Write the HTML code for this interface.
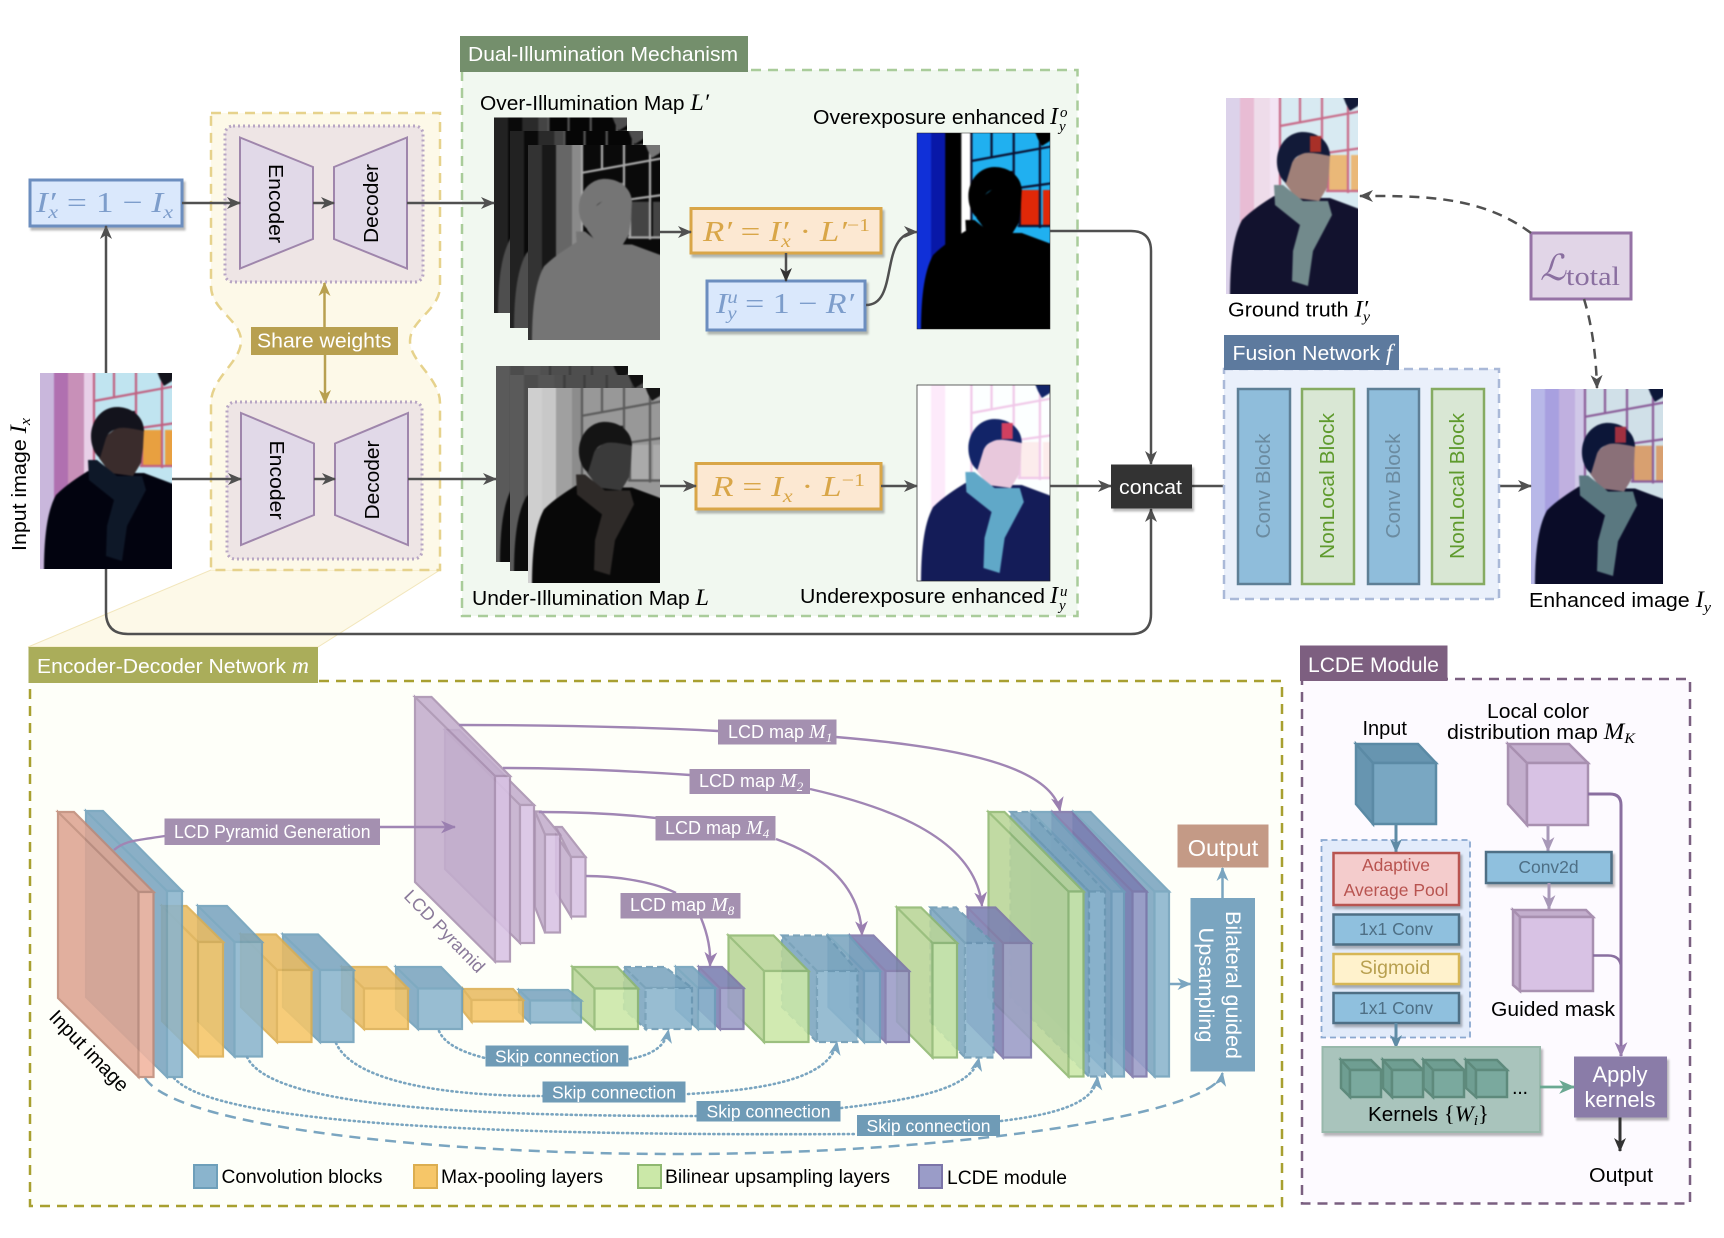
<!DOCTYPE html>
<html><head><meta charset="utf-8"><style>
html,body{margin:0;padding:0;background:#fff}
svg{display:block}
text{font-family:"Liberation Sans",sans-serif}
.m{font-family:"Liberation Serif",serif;font-style:italic}
.mr{font-family:"Liberation Serif",serif}
.w{fill:#fff}
.k{fill:#000}
.a1{fill:var(--w1)}.a2{fill:var(--w2)}.a3{fill:var(--w3)}.a12{fill:var(--w4)}.a4{fill:var(--p)}.a5{fill:var(--o)}
.a6{fill:none;stroke:var(--f);stroke-width:2.2}
.a7{fill:var(--coat)}.a8{fill:var(--sc)}.a9{fill:var(--skin)}.a10{fill:var(--hat)}.a11{fill:var(--logo)}
.pb{filter:blur(.9px)}
.ph1{--w1:#c9b7dc;--w2:#b070b0;--w3:#c890b8;--w4:#e8d0e8;--p:#c0e4f0;--o:#e8a040;--f:#c06080;--coat:#02030f;--sc:#0e1828;--skin:#3a2c2c;--hat:#13131c;--logo:#13131c}
.ph2{--w1:#dcd2ea;--w2:#e8bcd4;--w3:#eedcea;--w4:#f3e4f4;--p:#d8eaf2;--o:#eab878;--f:#c86a88;--coat:#12122e;--sc:#728a8c;--skin:#a08078;--hat:#121a38;--logo:#a83028}
.ph3{--w1:#b8b8e8;--w2:#a8a0e0;--w3:#c0b0e0;--w4:#d0c8e8;--p:#d0e0e8;--o:#d8a070;--f:#8a5c98;--coat:#0a0c28;--sc:#5a7880;--skin:#8a7078;--hat:#0c1638;--logo:#a03040}
.ph4{--w1:#fff;--w2:#fdeafa;--w3:#fff;--w4:#fff;--p:#fcffff;--o:#fcecec;--f:#f0c8e8;--coat:#141c58;--sc:#60a8c8;--skin:#e8c8dc;--hat:#122468;--logo:#d04060}
.ph5{--w1:#1030d8;--w2:#0818a8;--w3:#000;--w4:#fff;--p:#20b0f0;--o:#e02808;--f:#0a1030;--coat:#000;--sc:#000;--skin:#000;--hat:#000;--logo:#000}
.ph6{--w1:#333;--w2:#181818;--w3:#666;--w4:#8a8a8a;--p:#0a0a0a;--o:#444;--f:#aaa;--coat:#757575;--sc:#757575;--skin:#757575;--hat:#757575;--logo:#757575}
.ph7{--w1:#222;--w2:#0a0a0a;--w3:#2a2a2a;--w4:#444;--p:#060606;--o:#222;--f:#555;--coat:#4e4e4e;--sc:#4e4e4e;--skin:#4e4e4e;--hat:#4e4e4e;--logo:#4e4e4e}
.ph8{--w1:#cfcfcf;--w2:#c8c8c8;--w3:#a0a0a0;--w4:#8c8c8c;--p:#989898;--o:#aaa;--f:#5a5a5a;--coat:#080808;--sc:#2e2a28;--skin:#3a3a3a;--hat:#141414;--logo:#141414}
.ph9{--w1:#5a5a5a;--w2:#4c4c4c;--w3:#555;--w4:#505050;--p:#4e4e4e;--o:#555;--f:#3c3c3c;--coat:#0c0c0c;--sc:#1c1c1c;--skin:#2a2a2a;--hat:#111;--logo:#111}
.bl path{fill:#7ba5bf;stroke:#6e9fba}.bl rect{fill:#8ab4cd;stroke:#6e9fba}
.or path{fill:#e9bb62;stroke:#dcae50}.or rect{fill:#f6c668;stroke:#dcae50}
.gr path{fill:#b9d598;stroke:#8fb870}.gr rect{fill:#cbe8a8;stroke:#8fb870}
.pu path{fill:#7b7fb2;stroke:#7b74a8}.pu rect{fill:#9a9cc8;stroke:#7b74a8}
.py path{fill:#c3aecd;stroke:#a890b0}.py rect{fill:#d8c2e4;stroke:#a890b0}
.sa path{fill:#dea592;stroke:#c08a78}.sa rect{fill:#f2b5a0;stroke:#c08a78}
.c{stroke-width:2.2;opacity:.88}
.db path,.db rect{stroke-dasharray:7 4;stroke:#6a97b2}
.sh{filter:drop-shadow(2px 3px 1px rgba(0,0,0,.28))}
.ln{fill:none;stroke:#505050;stroke-width:2.5}
.sk{fill:none;stroke:#7aa5c0;stroke-width:2.6;stroke-dasharray:1.2 3.6;stroke-linecap:round}
.pl{fill:none;stroke:#a086b4;stroke-width:2.4}
</style></head><body>
<svg xmlns="http://www.w3.org/2000/svg" width="1724" height="1238" viewBox="0 0 1724 1238">
<defs>
<marker id="ad" viewBox="0 0 14 12" refX="13" refY="6" markerWidth="14" markerHeight="12" markerUnits="userSpaceOnUse" orient="auto"><path d="M0,0L14,6L0,12L4,6Z" fill="#505050"/></marker>
<marker id="ak" viewBox="0 0 14 12" refX="13" refY="6" markerWidth="14" markerHeight="14" markerUnits="userSpaceOnUse" orient="auto"><path d="M0,0L14,6L0,12L4,6Z" fill="#333"/></marker>
<marker id="ag" viewBox="0 0 14 12" refX="13" refY="6" markerWidth="14" markerHeight="12" markerUnits="userSpaceOnUse" orient="auto"><path d="M0,0L14,6L0,12L4,6Z" fill="#b8a050"/></marker>
<marker id="ap" viewBox="0 0 14 12" refX="13" refY="6" markerWidth="15" markerHeight="13" markerUnits="userSpaceOnUse" orient="auto"><path d="M0,0L14,6L0,12L4,6Z" fill="#9a7fb0"/></marker>
<marker id="ab" viewBox="0 0 14 12" refX="13" refY="6" markerWidth="14" markerHeight="13" markerUnits="userSpaceOnUse" orient="auto"><path d="M0,0L14,6L0,12L4,6Z" fill="#7aa5c0"/></marker>
<marker id="an" viewBox="0 0 14 12" refX="13" refY="6" markerWidth="14" markerHeight="13" markerUnits="userSpaceOnUse" orient="auto"><path d="M0,0L14,6L0,12L4,6Z" fill="#5f8ba5"/></marker>
<marker id="ae" viewBox="0 0 14 12" refX="13" refY="6" markerWidth="16" markerHeight="14" markerUnits="userSpaceOnUse" orient="auto"><path d="M0,0L14,6L0,12L4,6Z" fill="#6aa892"/></marker>
<marker id="al" viewBox="0 0 14 12" refX="13" refY="6" markerWidth="15" markerHeight="14" markerUnits="userSpaceOnUse" orient="auto"><path d="M0,0L14,6L0,12L4,6Z" fill="#a898b8"/></marker>
<symbol id="ph" viewBox="0 0 132 196" preserveAspectRatio="none">
<g class="pb">
<rect class="a1" x="-4" y="-4" width="140" height="204"/>
<rect class="a2" x="14" y="-4" width="16" height="204"/>
<rect class="a3" x="28" y="-4" width="18" height="204"/>
<rect class="a12" x="44" y="-4" width="11" height="204"/>
<rect class="a4" x="54" y="-4" width="82" height="114"/>
<rect class="a5" x="102" y="57" width="19" height="35"/><rect class="a5" x="125" y="57" width="11" height="35"/>
<path class="a6" d="M54,-4V100M54,28L136,13M74,-4V24M96,-4V50M122,-4V95M100,55L136,50M102,55V93M100,93H136"/>
<path class="a10" d="M116,-4H136L132,8L124,13L120,6Z"/>
<path class="a7" d="M4,200C4,170 6,140 16,122C26,112 37,105 48,98L78,100L104,100L136,112V200Z"/>
<path class="a9" d="M59,85L66,63L79,53L104,56L103,75L101,90L93,103L70,100Z"/>
<path class="a8" d="M48,87L49,107L74,127L67,153L66,183L82,188L87,153L106,117L102,103L77,103L57,87Z"/>
<path class="a10" d="M53,75C46,55 58,34 77,34C92,34 104,44 104,58C95,56 85,54 79,55C72,57 68,60 66,65L60,85C56,82 54,78 53,75Z"/>
<rect class="a11" x="84" y="38" width="11" height="16"/>
</g>
</symbol>
</defs>

<!-- trapezoid connecting -->
<polygon points="211,570 440,570 318,647 28,647" fill="#fdf9e8" stroke="#f2e6bc" stroke-width="1"/>

<!-- shared yellow region -->
<path d="M211,113H440V286C440,310 410,320 410,341C410,362 440,378 440,403V570H211V403C211,378 241,362 241,341C241,320 211,310 211,286Z" fill="#fdf9e8" stroke="#e6d28c" stroke-width="2.5" stroke-dasharray="10 7"/>
<rect x="225" y="126" width="198" height="156" rx="8" fill="#eee5e5" stroke="#b8a6c4" stroke-width="3" stroke-dasharray="2 3"/>
<rect x="227" y="402" width="195" height="157" rx="8" fill="#eee5e5" stroke="#b8a6c4" stroke-width="3" stroke-dasharray="2 3"/>
<polygon points="240,137.5 313,167 313,239 240,268.5" fill="#e1d9e8" stroke="#9f86ac" stroke-width="2"/>
<polygon points="407,137.5 334,167 334,239 407,268.5" fill="#e1d9e8" stroke="#9f86ac" stroke-width="2"/>
<polygon points="241,413 314,443.5 314,515 241,545" fill="#e1d9e8" stroke="#9f86ac" stroke-width="2"/>
<polygon points="408,413 335,443.5 335,515 408,545" fill="#e1d9e8" stroke="#9f86ac" stroke-width="2"/>
<text transform="translate(269,203.5) rotate(90)" text-anchor="middle" font-size="20" class="k" textLength="79" lengthAdjust="spacingAndGlyphs">Encoder</text>
<text transform="translate(378,203.5) rotate(-90)" text-anchor="middle" font-size="20" class="k" textLength="79" lengthAdjust="spacingAndGlyphs">Decoder</text>
<text transform="translate(270,480) rotate(90)" text-anchor="middle" font-size="20" class="k" textLength="79" lengthAdjust="spacingAndGlyphs">Encoder</text>
<text transform="translate(379,480) rotate(-90)" text-anchor="middle" font-size="20" class="k" textLength="79" lengthAdjust="spacingAndGlyphs">Decoder</text>

<!-- dual illumination box -->
<rect x="462" y="70" width="615.5" height="546" fill="#f1f8f0" stroke="#a9cc9a" stroke-width="2.5" stroke-dasharray="10 7"/>
<rect x="460" y="36" width="288" height="36" fill="#748f6c"/>
<text x="468" y="61" font-size="20.5" class="w" textLength="270" lengthAdjust="spacingAndGlyphs">Dual-Illumination Mechanism</text>
<text x="480" y="110" font-size="20" class="k" textLength="229" lengthAdjust="spacingAndGlyphs">Over-Illumination Map <tspan class="m" font-size="23">L′</tspan></text>
<text x="472" y="605" font-size="20" class="k" textLength="237" lengthAdjust="spacingAndGlyphs">Under-Illumination Map <tspan class="m" font-size="23">L</tspan></text>
<text x="813" y="124" font-size="20" class="k" textLength="232" lengthAdjust="spacingAndGlyphs">Overexposure enhanced</text>
<text x="1050" y="124" font-size="24" class="k m">I</text><text x="1060" y="117" font-size="15" class="k m">o</text><text x="1059" y="131" font-size="15" class="k m">y</text>
<text x="800" y="603" font-size="20" class="k" textLength="245" lengthAdjust="spacingAndGlyphs">Underexposure enhanced</text>
<text x="1050" y="603" font-size="24" class="k m">I</text><text x="1060" y="596" font-size="15" class="k m">u</text><text x="1059" y="610" font-size="15" class="k m">y</text>

<!-- stacks -->
<use href="#ph" class="ph7" x="494" y="117.5" width="133" height="195.5"/>
<use href="#ph" class="ph7" x="510" y="131" width="133" height="197"/>
<use href="#ph" class="ph6" x="528" y="145" width="132" height="195"/>
<use href="#ph" class="ph9" x="496" y="366" width="132" height="196"/>
<use href="#ph" class="ph9" x="510" y="375" width="133" height="196"/>
<use href="#ph" class="ph8" x="528" y="388" width="132" height="195"/>

<!-- enhanced images -->
<use href="#ph" class="ph5" x="917" y="133" width="133" height="196"/>
<rect x="917" y="133" width="133" height="196" fill="none" stroke="#222" stroke-width=".5"/>
<use href="#ph" class="ph4" x="917" y="385" width="133" height="196"/>
<rect x="917" y="385" width="133" height="196" fill="none" stroke="#222" stroke-width=".7"/>
<use href="#ph" class="ph1" x="40" y="373" width="132" height="196"/>
<use href="#ph" class="ph2" x="1226" y="98" width="132" height="196"/>
<use href="#ph" class="ph3" x="1531" y="389" width="132" height="195"/>

<!-- formula boxes -->
<rect class="sh" x="30" y="180" width="152" height="46" fill="#dae8fc" stroke="#6c8ebf" stroke-width="3"/>
<text x="36" y="212" font-size="29" fill="#7d9dcb" class="mr" textLength="137" lengthAdjust="spacingAndGlyphs"><tspan class="m">I′</tspan><tspan class="m" font-size="18" dy="6" dx="-6">x</tspan><tspan dy="-6"> = 1 − </tspan><tspan class="m">I</tspan><tspan class="m" font-size="18" dy="6">x</tspan></text>
<rect class="sh" x="691" y="208.5" width="190" height="44.5" fill="#fce8d2" stroke="#d9a648" stroke-width="3"/>
<text x="703" y="241" font-size="29" fill="#d9a648" class="mr" textLength="167" lengthAdjust="spacingAndGlyphs"><tspan class="m">R′</tspan> = <tspan class="m">I′</tspan><tspan class="m" font-size="18" dy="6" dx="-6">x</tspan><tspan dy="-6"> · </tspan><tspan class="m">L′</tspan><tspan font-size="18" dy="-10">−1</tspan></text>
<rect class="sh" x="707" y="281" width="158" height="49" fill="#dae8fc" stroke="#6c8ebf" stroke-width="3"/>
<text x="716" y="313" font-size="29" fill="#7d9dcb" class="mr" textLength="138" lengthAdjust="spacingAndGlyphs"><tspan class="m">I</tspan><tspan class="m" font-size="18" dy="-10">u</tspan><tspan class="m" font-size="18" dy="16" dx="-9">y</tspan><tspan dy="-6"> = 1 − </tspan><tspan class="m">R′</tspan></text>
<rect class="sh" x="696" y="463.5" width="185" height="45.5" fill="#fce8d2" stroke="#d9a648" stroke-width="3"/>
<text x="712" y="496" font-size="29" fill="#d9a648" class="mr" textLength="153" lengthAdjust="spacingAndGlyphs"><tspan class="m">R</tspan> = <tspan class="m">I</tspan><tspan class="m" font-size="18" dy="6">x</tspan><tspan dy="-6"> · </tspan><tspan class="m">L</tspan><tspan font-size="18" dy="-10">−1</tspan></text>

<!-- top connectors -->
<path class="ln" marker-end="url(#ad)" d="M182,203H240"/>
<path class="ln" marker-end="url(#ad)" d="M313,203H334"/>
<path class="ln" marker-end="url(#ad)" d="M407,203H494"/>
<path class="ln" marker-end="url(#ad)" d="M106,373V226"/>
<path class="ln" marker-end="url(#ad)" d="M172,479H241"/>
<path class="ln" marker-end="url(#ad)" d="M314,479H335"/>
<path class="ln" marker-end="url(#ad)" d="M408,479H496"/>
<path class="ln" marker-end="url(#ad)" d="M660,232H691"/>
<path class="ln" marker-end="url(#ak)" d="M786,253V281"/>
<path class="ln" marker-end="url(#ad)" d="M660,486H696"/>
<path class="ln" marker-end="url(#ad)" d="M881,486H917"/>
<path class="ln" marker-end="url(#ad)" d="M866,305C900,305 878,232 917,232"/>
<path class="ln" marker-end="url(#ad)" d="M1050,231H1131Q1151,231 1151,251V464"/>
<path class="ln" marker-end="url(#ad)" d="M1050,486H1111"/>
<path class="ln" marker-end="url(#ad)" d="M106,569V612Q106,634 128,634H1131Q1151,634 1151,614V509"/>
<path class="ln" marker-end="url(#ad)" d="M1192,486H1238"/>
<path class="ln" marker-end="url(#ad)" d="M1484,486H1531"/>
<path fill="none" stroke="#b8a050" stroke-width="2.5" marker-end="url(#ag)" d="M324.5,327V283"/>
<path fill="none" stroke="#b8a050" stroke-width="2.5" marker-end="url(#ag)" d="M325,355V403"/>
<rect x="251" y="327" width="147" height="28" fill="#b8a050"/>
<text x="257" y="347.5" font-size="20" class="w" textLength="134.5" lengthAdjust="spacingAndGlyphs">Share weights</text>
<rect class="sh" x="1111" y="464.5" width="81" height="44" fill="#333"/>
<text x="1119" y="494" font-size="20" class="w" textLength="63" lengthAdjust="spacingAndGlyphs">concat</text>

<text transform="translate(26,551) rotate(-90)" font-size="20" class="k" textLength="133" lengthAdjust="spacingAndGlyphs">Input image <tspan class="m" font-size="23">I</tspan><tspan class="m" font-size="15" dy="4">x</tspan></text>

<!-- fusion -->
<rect x="1224" y="369" width="275" height="230" fill="#eaf0fb" stroke="#aab9d8" stroke-width="2.5" stroke-dasharray="9 6"/>
<rect x="1224" y="335" width="175" height="35" fill="#5d7a9e"/>
<text x="1232.5" y="360" font-size="20.5" class="w" textLength="160" lengthAdjust="spacingAndGlyphs">Fusion Network <tspan class="m" font-size="23">f</tspan></text>
<rect x="1238" y="389" width="52" height="195" fill="#8fbddb" stroke="#5e7f96" stroke-width="2.5"/>
<rect x="1302" y="389" width="52" height="195" fill="#d9e7d4" stroke="#86ab62" stroke-width="2.5"/>
<rect x="1368" y="389" width="51" height="195" fill="#8fbddb" stroke="#5e7f96" stroke-width="2.5"/>
<rect x="1432" y="389" width="52" height="195" fill="#d9e7d4" stroke="#86ab62" stroke-width="2.5"/>
<text transform="translate(1270,486) rotate(-90)" text-anchor="middle" font-size="20" fill="#6b8ba0" textLength="105" lengthAdjust="spacingAndGlyphs">Conv Block</text>
<text transform="translate(1400,486) rotate(-90)" text-anchor="middle" font-size="20" fill="#6b8ba0" textLength="105" lengthAdjust="spacingAndGlyphs">Conv Block</text>
<text transform="translate(1334,486) rotate(-90)" text-anchor="middle" font-size="20" fill="#5e9a2c" textLength="146" lengthAdjust="spacingAndGlyphs">NonLocal Block</text>
<text transform="translate(1464,486) rotate(-90)" text-anchor="middle" font-size="20" fill="#5e9a2c" textLength="146" lengthAdjust="spacingAndGlyphs">NonLocal Block</text>

<text x="1228" y="316.5" font-size="20" class="k" textLength="142" lengthAdjust="spacingAndGlyphs">Ground truth <tspan class="m" font-size="23">I′</tspan><tspan class="m" font-size="15" dy="5" dx="-5">y</tspan></text>
<text x="1529" y="607" font-size="20" class="k" textLength="182" lengthAdjust="spacingAndGlyphs">Enhanced image <tspan class="m" font-size="23">I</tspan><tspan class="m" font-size="15" dy="5">y</tspan></text>

<rect x="1531" y="233" width="100" height="66" fill="#e1d5e7" stroke="#9673a6" stroke-width="3"/>
<text x="1540" y="280" font-size="36" fill="#8a6fa0" font-style="italic" style="font-family:'DejaVu Serif','Liberation Serif',serif">ℒ</text>
<text x="1566" y="285" font-size="26" fill="#8a6fa0" class="mr" textLength="54" lengthAdjust="spacingAndGlyphs">total</text>
<path fill="none" stroke="#505050" stroke-width="2.5" stroke-dasharray="10 7" marker-end="url(#ad)" d="M1531,233C1480,195 1420,196 1360,196"/>
<path fill="none" stroke="#505050" stroke-width="2.5" stroke-dasharray="10 7" marker-end="url(#ad)" d="M1584,299C1592,325 1596,355 1597,388"/>

<!-- encoder decoder network -->
<rect x="30" y="681" width="1252" height="525" fill="#fefff9" stroke="#a8a030" stroke-width="2.5" stroke-dasharray="10 7"/>
<rect x="28.5" y="647" width="289.5" height="36" fill="#aaad5a"/>
<text x="37" y="673" font-size="20.5" class="w" textLength="272" lengthAdjust="spacingAndGlyphs">Encoder-Decoder Network <tspan class="m" font-size="23">m</tspan></text>

<!-- blocks right to left (left ones overlay right ones) -->
<g class="c bl"><path d="M1073.5,812H1090.5L1169,891.5H1154.5ZM1073.5,812L1154.5,891.5V1076.5L1073.5,997Z"/><rect x="1154.5" y="891.5" width="14.5" height="185"/></g>
<g class="c pu"><path d="M1052.5,812H1071.5L1146.5,891.5H1132.5ZM1052.5,812L1132.5,891.5V1076.5L1052.5,997Z"/><rect x="1132.5" y="891.5" width="14" height="185"/></g>
<g class="c bl"><path d="M1031.5,812H1050.5L1124,891.5H1111.5ZM1031.5,812L1111.5,891.5V1076.5L1031.5,997Z"/><rect x="1111.5" y="891.5" width="12.5" height="185"/></g>
<g class="c bl db"><path d="M1010.5,812H1029.5L1105,891.5H1089ZM1010.5,812L1089,891.5V1076.5L1010.5,997Z"/><rect x="1089" y="891.5" width="16" height="185"/></g>
<g class="c gr"><path d="M988.5,812H1004.5L1083.5,891.5H1068.5ZM988.5,812L1068.5,891.5V1076.5L988.5,997Z"/><rect x="1068.5" y="891.5" width="15" height="185"/></g>
<g class="c pu"><path d="M967.5,907.5H995.5L1031,943H1003ZM967.5,907.5L1003,943V1057.5L967.5,1021.5Z"/><rect x="1003" y="943" width="28" height="114.5"/></g>
<g class="c bl db"><path d="M930.5,907.5H956L993.5,943H965ZM930.5,907.5L965,943V1057.5L930.5,1021.5Z"/><rect x="965" y="943" width="28.5" height="114.5"/></g>
<g class="c gr"><path d="M897,907.5H921L957,943H932.5ZM897,907.5L932.5,943V1057.5L897,1021.5Z"/><rect x="932.5" y="943" width="24.5" height="114.5"/></g>
<g class="c pu"><path d="M850,935.5H873.5L909,971H885.5ZM850,935.5L885.5,971V1042L850,1007Z"/><rect x="885.5" y="971" width="23.5" height="71"/></g>
<g class="c bl"><path d="M828.5,935.5H849L880,971H864ZM828.5,935.5L864,971V1042L828.5,1007Z"/><rect x="864" y="971" width="16" height="71"/></g>
<g class="c bl db"><path d="M782,935.5H826.5L857.5,971H817ZM782,935.5L817,971V1042L782,1007Z"/><rect x="817" y="971" width="40.5" height="71"/></g>
<g class="c gr"><path d="M728.5,935.5H773.5L808.5,971H764ZM728.5,935.5L764,971V1042L728.5,1007Z"/><rect x="764" y="971" width="44.5" height="71"/></g>
<g class="c pu"><path d="M699,967H722L743.5,988H720ZM699,967L720,988V1029L699,1009Z"/><rect x="720" y="988" width="23.5" height="41"/></g>
<g class="c bl"><path d="M676,967H692.5L715,988H698ZM676,967L698,988V1029L676,1009Z"/><rect x="698" y="988" width="17" height="41"/></g>
<g class="c bl db"><path d="M624,967H665L692,988H645.5ZM624,967L645.5,988V1029L624,1009Z"/><rect x="645.5" y="988" width="46.5" height="41"/></g>
<g class="c gr"><path d="M572.5,967H617.5L638,988.5H594.5ZM572.5,967L594.5,988.5V1029L572.5,1009Z"/><rect x="594.5" y="988.5" width="43.5" height="40.5"/></g>
<g class="c bl"><path d="M519,990H568L581,1000.5H530ZM519,990L530,1000.5V1022.5L519,1012Z"/><rect x="530" y="1000.5" width="51" height="22"/></g>
<g class="c or"><path d="M463,989H513L523,1000H471.5ZM463,989L471.5,1000V1021.5L463,1011Z"/><rect x="471.5" y="1000" width="51.5" height="21.5"/></g>
<g class="c bl"><path d="M396,967H441L462,988.5H418ZM396,967L418,988.5V1029L396,1009Z"/><rect x="418" y="988.5" width="44" height="40.5"/></g>
<g class="c or"><path d="M342,967H386.5L408,988.5H364ZM342,967L364,988.5V1029L342,1009Z"/><rect x="364" y="988.5" width="44" height="40.5"/></g>
<g class="c bl"><path d="M283,934.5H318L353.5,970H320ZM283,934.5L320,970V1042L283,1007Z"/><rect x="320" y="970" width="33.5" height="72"/></g>
<g class="c or"><path d="M241,934.5H276L311.5,970H277ZM241,934.5L277,970V1042L241,1007Z"/><rect x="277" y="970" width="34.5" height="72"/></g>
<g class="c bl"><path d="M198,906H227L262,942H234.5ZM198,906L234.5,942V1056.5L198,1021Z"/><rect x="234.5" y="942" width="27.5" height="114.5"/></g>
<g class="c or"><path d="M162,906H186.5L223,942H198ZM162,906L198,942V1056.5L162,1021Z"/><rect x="198" y="942" width="25" height="114.5"/></g>
<g class="c bl"><path d="M86,811H103L182,891H167ZM86,811L167,891V1077L86,997Z"/><rect x="167" y="891" width="15" height="186"/></g>
<g class="c sa"><path d="M58,812H74L153.5,892H138.5ZM58,812L138.5,892V1077L58,998Z"/><rect x="138.5" y="892" width="15" height="185"/></g>

<!-- pyramid -->
<g class="c py"><path d="M556,827H562L585.5,857H571ZM556,835L571,857V916.5L556,892Z"/><rect x="571" y="857" width="14.5" height="59.5"/></g>
<g class="c py"><path d="M535,811.5H541L560,834.5H545ZM535,811.5L545,834.5V932.5L535,907Z"/><rect x="545" y="834.5" width="15" height="98"/></g>
<g class="c py"><path d="M445,730H459L534,805H520ZM445,730L520,805V943L445,869Z"/><rect x="520" y="805" width="14" height="138"/></g>
<g class="c py"><path d="M415,697H431.5L510,776H495ZM415,697L495,776V961.5L415,882Z"/><rect x="495" y="776" width="15" height="185.5"/></g>

<text transform="translate(403,897) rotate(46)" font-size="18" fill="#8a7a9a">LCD Pyramid</text>
<text transform="translate(48,1018) rotate(46)" font-size="20" class="k">Input image</text>

<!-- LCD maps -->
<path class="pl" d="M114,850C125,840 140,840 165,836"/>
<path class="pl" stroke-width="3" marker-end="url(#ap)" d="M380,827H455"/>
<path class="pl" d="M459,725C550,725 640,727 718,731"/>
<path class="pl" marker-end="url(#ap)" d="M836,737C930,745 1050,760 1060,811"/>
<path class="pl" d="M503,768C570,768 630,771 690,775"/>
<path class="pl" marker-end="url(#ap)" d="M810,789C880,805 975,835 982,906"/>
<path class="pl" d="M539,812C580,812 620,814 656,818"/>
<path class="pl" marker-end="url(#ap)" d="M776,839C815,853 860,880 862,935"/>
<path class="pl" d="M586,876C610,876 650,880 676,893"/>
<path class="pl" marker-end="url(#ap)" d="M701,918C708,935 711,950 710,966"/>
<rect x="164.5" y="818.5" width="215.5" height="26.5" fill="#a490b0"/>
<text x="174" y="838" font-size="18" class="w" textLength="196.5" lengthAdjust="spacingAndGlyphs">LCD Pyramid Generation</text>
<rect x="718" y="719.5" width="118.5" height="25" fill="#a490b0"/>
<text x="728" y="738" font-size="18" class="w">LCD map <tspan class="m" font-size="20">M</tspan><tspan class="m" font-size="13" dy="4">1</tspan></text>
<rect x="689.5" y="769" width="120.5" height="25" fill="#a490b0"/>
<text x="699" y="787" font-size="18" class="w">LCD map <tspan class="m" font-size="20">M</tspan><tspan class="m" font-size="13" dy="4">2</tspan></text>
<rect x="655.5" y="816" width="120" height="24.5" fill="#a490b0"/>
<text x="665" y="834" font-size="18" class="w">LCD map <tspan class="m" font-size="20">M</tspan><tspan class="m" font-size="13" dy="4">4</tspan></text>
<rect x="620.5" y="893" width="120" height="25.5" fill="#a490b0"/>
<text x="630" y="911" font-size="18" class="w">LCD map <tspan class="m" font-size="20">M</tspan><tspan class="m" font-size="13" dy="4">8</tspan></text>

<!-- Skip connections -->
<path class="sk" d="M439,1031C445,1045 465,1053 485,1058"/>
<path class="sk" marker-end="url(#ab)" d="M630,1059C650,1055 665,1048 668.5,1030"/>
<path class="sk" d="M336,1043C350,1075 420,1096 543,1096"/>
<path class="sk" marker-end="url(#ab)" d="M688,1094C760,1090 830,1080 837,1042"/>
<path class="sk" d="M247,1057C270,1105 450,1116 696,1116"/>
<path class="sk" marker-end="url(#ab)" d="M841,1108C910,1100 972,1090 979,1058"/>
<path class="sk" d="M174,1078C215,1125 500,1136 857,1134"/>
<path class="sk" marker-end="url(#ab)" d="M1001,1121C1050,1115 1095,1105 1097.5,1077"/>
<path fill="none" stroke="#7aa5c0" stroke-width="2.5" stroke-dasharray="11 7" marker-end="url(#ab)" d="M145,1078C175,1125 420,1154 680,1154C950,1154 1215,1115 1222.5,1073"/>
<rect x="485.5" y="1045.5" width="143" height="21" fill="#6f9bb6"/>
<text x="495" y="1062.5" font-size="17.5" class="w" textLength="124" lengthAdjust="spacingAndGlyphs">Skip connection</text>
<rect x="542.5" y="1081.5" width="143" height="21" fill="#6f9bb6"/>
<text x="552" y="1098.5" font-size="17.5" class="w" textLength="124" lengthAdjust="spacingAndGlyphs">Skip connection</text>
<rect x="696.5" y="1101" width="144" height="20.5" fill="#6f9bb6"/>
<text x="706.5" y="1117.5" font-size="17.5" class="w" textLength="124" lengthAdjust="spacingAndGlyphs">Skip connection</text>
<rect x="857" y="1115" width="143" height="21" fill="#6f9bb6"/>
<text x="866.5" y="1132" font-size="17.5" class="w" textLength="124" lengthAdjust="spacingAndGlyphs">Skip connection</text>

<!-- output -->
<path fill="none" stroke="#7aa5c0" stroke-width="2.5" marker-end="url(#ab)" d="M1169,984H1190.5"/>
<path fill="none" stroke="#7aa5c0" stroke-width="2.5" marker-end="url(#ab)" d="M1222.5,898V868"/>
<rect x="1177.5" y="824.5" width="91" height="43" fill="#c49a86"/>
<text x="1223" y="856" font-size="23.5" class="w" text-anchor="middle">Output</text>
<rect x="1190.5" y="898" width="64.5" height="173.5" fill="#7aa5c0"/>
<text transform="translate(1226,985) rotate(90)" text-anchor="middle" font-size="21" class="w" textLength="148" lengthAdjust="spacingAndGlyphs">Bilateral guided</text>
<text transform="translate(1199,985) rotate(90)" text-anchor="middle" font-size="21" class="w" textLength="115" lengthAdjust="spacingAndGlyphs">Upsampling</text>

<!-- legend -->
<rect x="194" y="1165" width="23" height="23" fill="#8ab4cd" stroke="#6e9fba" stroke-width="2"/>
<text x="221.5" y="1183" font-size="19" class="k" textLength="161" lengthAdjust="spacingAndGlyphs">Convolution blocks</text>
<rect x="414" y="1165" width="23" height="23" fill="#f6c668" stroke="#dcae50" stroke-width="2"/>
<text x="441" y="1183" font-size="19" class="k" textLength="162" lengthAdjust="spacingAndGlyphs">Max-pooling layers</text>
<rect x="638" y="1165" width="23" height="23" fill="#cbe8a8" stroke="#8fb870" stroke-width="2"/>
<text x="665" y="1183" font-size="19" class="k" textLength="225" lengthAdjust="spacingAndGlyphs">Bilinear upsampling layers</text>
<rect x="919" y="1165" width="23" height="23" fill="#9a9cc8" stroke="#7b74a8" stroke-width="2"/>
<text x="947" y="1184" font-size="19" class="k" textLength="120" lengthAdjust="spacingAndGlyphs">LCDE module</text>

<!-- LCDE -->
<rect x="1302" y="679" width="388" height="524.5" fill="#fdfaff" stroke="#7a5f80" stroke-width="2.5" stroke-dasharray="10 7"/>
<rect x="1300" y="645.5" width="147.5" height="35.5" fill="#7d5f80"/>
<text x="1308" y="672" font-size="21" class="w" textLength="131" lengthAdjust="spacingAndGlyphs">LCDE Module</text>
<text x="1362.5" y="735" font-size="20" class="k">Input</text>
<text x="1487" y="718" font-size="20" class="k" textLength="102" lengthAdjust="spacingAndGlyphs">Local color</text>
<text x="1447" y="739" font-size="20" class="k" textLength="188" lengthAdjust="spacingAndGlyphs">distribution map <tspan class="m" font-size="23">M</tspan><tspan class="m" font-size="15" dy="4">K</tspan></text>
<g><path d="M1356,744H1418L1436,763H1373ZM1356,744L1373,763V824L1356,804Z" fill="#6795b0" stroke="#5b8aa5" stroke-width="2.5"/><rect x="1373" y="763" width="63" height="61" fill="#79a7c2" stroke="#5b8aa5" stroke-width="2.5"/></g>
<g><path d="M1508,744H1569L1588,763H1527ZM1508,744L1527,763V825L1508,804Z" fill="#c3aecd" stroke="#a890b0" stroke-width="2.5"/><rect x="1527" y="763" width="61" height="62" fill="#d8c2e4" stroke="#a890b0" stroke-width="2.5"/></g>
<rect x="1321.5" y="840" width="148.5" height="197.5" fill="#e2ebfa" stroke="#8aa8d0" stroke-width="1.8" stroke-dasharray="6 4"/>
<path fill="none" stroke="#5f8ba5" stroke-width="3" marker-end="url(#an)" d="M1396,825V852"/>
<rect class="sh" x="1333.5" y="853" width="125.5" height="52" fill="#f4cccc" stroke="#b85450" stroke-width="2.5"/>
<text x="1396" y="871" font-size="17.5" fill="#b85450" text-anchor="middle">Adaptive</text>
<text x="1396" y="896" font-size="17.5" fill="#b85450" text-anchor="middle">Average Pool</text>
<rect class="sh" x="1333.5" y="914.5" width="125.5" height="30" fill="#8fc0de" stroke="#4e6f85" stroke-width="2.5"/>
<text x="1396" y="935" font-size="17.5" fill="#4e6f85" text-anchor="middle">1x1 Conv</text>
<rect class="sh" x="1333.5" y="954" width="125.5" height="30" fill="#fff2cc" stroke="#d6b656" stroke-width="2.5"/>
<text x="1395" y="974" font-size="19.5" fill="#b8a050" text-anchor="middle">Sigmoid</text>
<rect class="sh" x="1333.5" y="993" width="125.5" height="30" fill="#8fc0de" stroke="#4e6f85" stroke-width="2.5"/>
<text x="1396" y="1014" font-size="17.5" fill="#4e6f85" text-anchor="middle">1x1 Conv</text>
<path fill="none" stroke="#5f8ba5" stroke-width="3" marker-end="url(#an)" d="M1396,1023V1048"/>
<rect class="sh" x="1322.5" y="1047" width="217.5" height="85" fill="#a9c4bc" stroke="#98b8ab" stroke-width="2"/>
<g fill="#6f9e92" stroke="#5e8a7c" stroke-width="2.5">
<path d="M1341,1060H1371L1381,1070H1350ZM1341,1060L1350,1070V1097L1341,1088Z"/><rect x="1350" y="1070" width="31" height="27" fill="#7aa99e"/>
<path d="M1383,1060H1413L1423,1070H1392ZM1383,1060L1392,1070V1097L1383,1088Z"/><rect x="1392" y="1070" width="31" height="27" fill="#7aa99e"/>
<path d="M1423.5,1060H1454L1464,1070H1433ZM1423.5,1060L1433,1070V1097L1423.5,1088Z"/><rect x="1433" y="1070" width="31" height="27" fill="#7aa99e"/>
<path d="M1466,1060H1497L1507,1070H1476ZM1466,1060L1476,1070V1097L1466,1088Z"/><rect x="1476" y="1070" width="31" height="27" fill="#7aa99e"/>
</g>
<text x="1512" y="1094" font-size="20" class="k" textLength="16">...</text>
<text x="1368" y="1121" font-size="20" class="k" textLength="121" lengthAdjust="spacingAndGlyphs">Kernels <tspan class="mr" font-size="22">{</tspan><tspan class="m" font-size="22">W</tspan><tspan class="m" font-size="15" dy="4">i</tspan><tspan class="mr" font-size="22" dy="-4">}</tspan></text>
<path fill="none" stroke="#6aa892" stroke-width="2.8" marker-end="url(#ae)" d="M1540,1087H1574"/>
<rect class="sh" x="1574" y="1056.5" width="93" height="61" fill="#8a7ca8"/>
<text x="1620" y="1082" font-size="22" class="w" text-anchor="middle">Apply</text>
<text x="1620" y="1107" font-size="22" class="w" text-anchor="middle">kernels</text>
<path fill="none" stroke="#333" stroke-width="3" marker-end="url(#ak)" d="M1620,1117.5V1151"/>
<text x="1621" y="1182" font-size="20.5" class="k" text-anchor="middle" textLength="64" lengthAdjust="spacingAndGlyphs">Output</text>
<path fill="none" stroke="#a898b8" stroke-width="3" marker-end="url(#al)" d="M1548,825V851"/>
<rect class="sh" x="1486" y="852" width="125.5" height="31" fill="#8fc0de" stroke="#4e6f85" stroke-width="2.5"/>
<text x="1548.5" y="873" font-size="17.5" fill="#4e6f85" text-anchor="middle">Conv2d</text>
<path fill="none" stroke="#a898b8" stroke-width="3" marker-end="url(#al)" d="M1549,883V909"/>
<g><path d="M1513,910H1586L1593,917H1520ZM1513,910L1520,917V991L1513,985Z" fill="#c3aecd" stroke="#a890b0" stroke-width="2.5"/><rect x="1520" y="917" width="73" height="74" fill="#d8c2e4" stroke="#a890b0" stroke-width="2.5"/></g>
<text x="1491" y="1016" font-size="20" class="k" textLength="124" lengthAdjust="spacingAndGlyphs">Guided mask</text>
<path fill="none" stroke="#8a6fa0" stroke-width="3" marker-end="url(#ap)" d="M1588,794H1610Q1621,794 1621,805V1056"/>
<path fill="none" stroke="#8a6fa0" stroke-width="2.5" d="M1593,955.5H1608Q1621,955.5 1621,968"/>
</svg>
</body></html>
